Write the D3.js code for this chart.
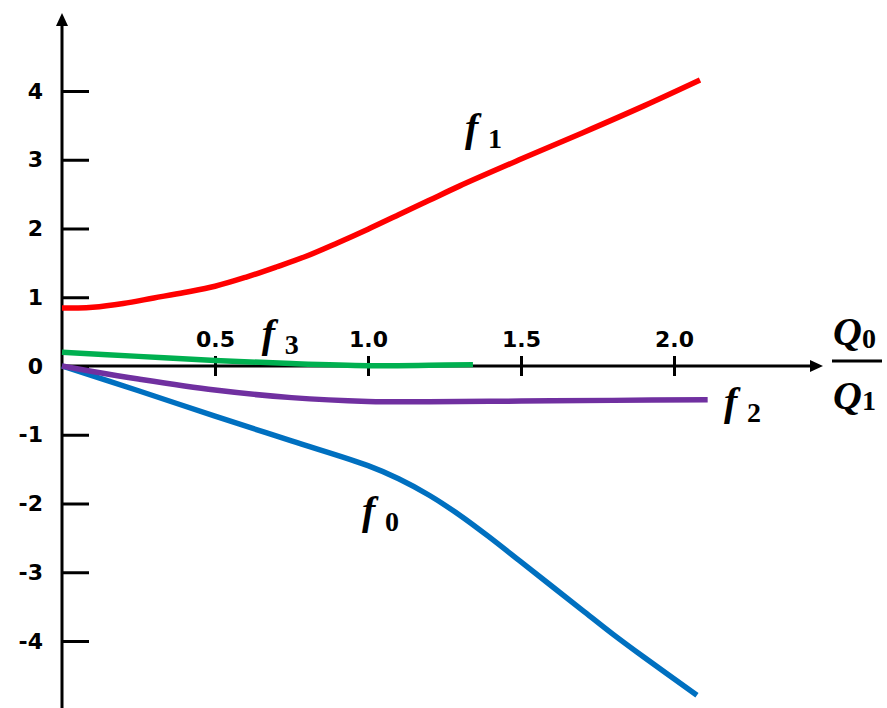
<!DOCTYPE html>
<html>
  <head>
    <meta charset="utf-8">
    <style>
    body {
      margin: 0;
      background: #fff;
    }
    .tick text {
      font-family: "DejaVu Sans", sans-serif;
      font-weight: bold;
      font-size: 22px;
      fill: #000;
    }
    .lbl {
      font-family: "Liberation Serif", serif;
      font-weight: bold;
      fill: #000;
    }
    </style>
  </head>
  <body>
    <script src="https://d3js.org/d3.v7.min.js"></script>
    <script>

// tick values
var xTicks = [0.5, 1.0, 1.5, 2.0];
var yTicks = [-4, -3, -2, -1, 0, 1, 2, 3, 4];

// curves: [Q0/Q1, f]
var f0 = [[0,0],[0.25,-0.36],[0.5,-0.73],[0.75,-1.09],[1.0,-1.45],[1.1,-1.64],[1.2,-1.88],
          [1.3,-2.17],[1.4,-2.5],[1.5,-2.85],[1.6,-3.2],[1.7,-3.55],[1.8,-3.9],[1.9,-4.23],[2.075,-4.79]];
var f1 = [[0,0.845],[0.05,0.845],[0.1,0.855],[0.2,0.91],[0.3,0.99],[0.4,1.07],[0.5,1.16],[0.6,1.29],
          [0.7,1.44],[0.8,1.6],[0.9,1.79],[1.0,1.99],[1.1,2.2],[1.2,2.41],[1.3,2.62],[1.5,3.01],
          [1.7,3.39],[1.9,3.78],[2.085,4.16]];
var f2 = [[0,0],[0.1,-0.08],[0.25,-0.19],[0.5,-0.35],[0.75,-0.46],[1.0,-0.515],[1.2,-0.52],
          [1.5,-0.51],[1.8,-0.5],[2.11,-0.49]];
var f3 = [[0,0.2],[0.25,0.14],[0.5,0.08],[0.75,0.035],[1.0,0.005],[1.2,0.01],[1.343,0.02]];

var curveNames = ["0", "1", "2", "3"];
var curveData = [f0, f1, f2, f3];
var curveColors = ["#0070C0", "#FF0000", "#7030A0", "#00B050"];

// where each "f" label sits, in data units (x of left edge, y of baseline)
var labelAt = [[0.98, -2.3], [1.317, 3.28], [2.163, -0.71], [0.653, 0.28]];

    var width = 887, height = 708;

    var x = d3.scaleLinear().domain([0, 2]).range([62, 674]);
    var y = d3.scaleLinear().domain([-4, 4]).range([641, 91]);

    var svg = d3.select("body").append("svg")
        .attr("width", width)
        .attr("height", height);

    // axis lines with arrow heads
    var x0 = x(0), y0 = y(0);
    svg.append("line")
        .attr("x1", x0).attr("y1", height).attr("x2", x0).attr("y2", 22)
        .style("stroke", "#000").style("stroke-width", 3);
    svg.append("path")
        .attr("d", "M" + (x0 - 6) + ",26 L" + x0 + ",13 L" + (x0 + 6) + ",26 Z")
        .style("fill", "#000");

    svg.append("line")
        .attr("x1", x0).attr("y1", y0).attr("x2", 814).attr("y2", y0)
        .style("stroke", "#000").style("stroke-width", 3);
    svg.append("path")
        .attr("d", "M810," + (y0 - 6) + " L823," + y0 + " L810," + (y0 + 6) + " Z")
        .style("fill", "#000");

    // y ticks: marks to the right, labels to the left (plain hyphen for minus)
    var yAxis = svg.append("g")
        .attr("transform", "translate(" + x0 + ",0)")
        .call(d3.axisLeft(y).tickValues(yTicks).tickSize(-27).tickPadding(19)
              .tickFormat(function(d){ return String(d); }));
    yAxis.select(".domain").remove();
    yAxis.selectAll(".tick line").style("stroke", "#000").style("stroke-width", 3);

    // x ticks: crossing marks, labels above
    var xAxis = svg.append("g")
        .attr("transform", "translate(0," + y0 + ")")
        .call(d3.axisTop(x).tickValues(xTicks).tickSize(10).tickPadding(9)
              .tickFormat(function(d){ return d.toFixed(1); }));
    xAxis.select(".domain").remove();
    xAxis.selectAll(".tick line").attr("y1", 10).style("stroke", "#000").style("stroke-width", 3);

    // curves
    var line = d3.line()
        .x(function(d){ return x(d[0]); })
        .y(function(d){ return y(d[1]); })
        .curve(d3.curveCatmullRom.alpha(0.5));

    svg.selectAll(".curve")
        .data(curveData)
      .enter().append("path")
        .attr("class", "curve")
        .attr("d", line)
        .style("fill", "none")
        .style("stroke", function(d, i){ return curveColors[i]; })
        .style("stroke-width", 5.5);

    // f labels
    var labels = svg.selectAll(".flabel")
        .data(curveNames)
      .enter().append("g")
        .attr("class", "flabel")
        .attr("transform", function(d, i){
            return "translate(" + x(labelAt[i][0]) + "," + y(labelAt[i][1]) + ")";
        });
    labels.append("text")
        .attr("class", "lbl")
        .style("font-style", "italic")
        .style("font-size", "40px")
        .text("f");
    labels.append("text")
        .attr("class", "lbl")
        .attr("x", 23)
        .attr("y", 7)
        .style("font-size", "28px")
        .text(function(d){ return d; });

    // axis title Q0 / Q1
    var q = svg.append("g").attr("transform", "translate(833,0)");
    q.append("text").attr("class", "lbl").attr("y", 345)
        .style("font-style", "italic").style("font-size", "40px").text("Q");
    q.append("text").attr("class", "lbl").attr("x", 29).attr("y", 348)
        .style("font-size", "28px").text("0");
    q.append("line").attr("x1", -1).attr("x2", 49).attr("y1", 361).attr("y2", 361)
        .style("stroke", "#000").style("stroke-width", 3);
    q.append("text").attr("class", "lbl").attr("y", 409)
        .style("font-style", "italic").style("font-size", "40px").text("Q");
    q.append("text").attr("class", "lbl").attr("x", 29).attr("y", 410)
        .style("font-size", "28px").text("1");

    </script>
  </body>
</html>
